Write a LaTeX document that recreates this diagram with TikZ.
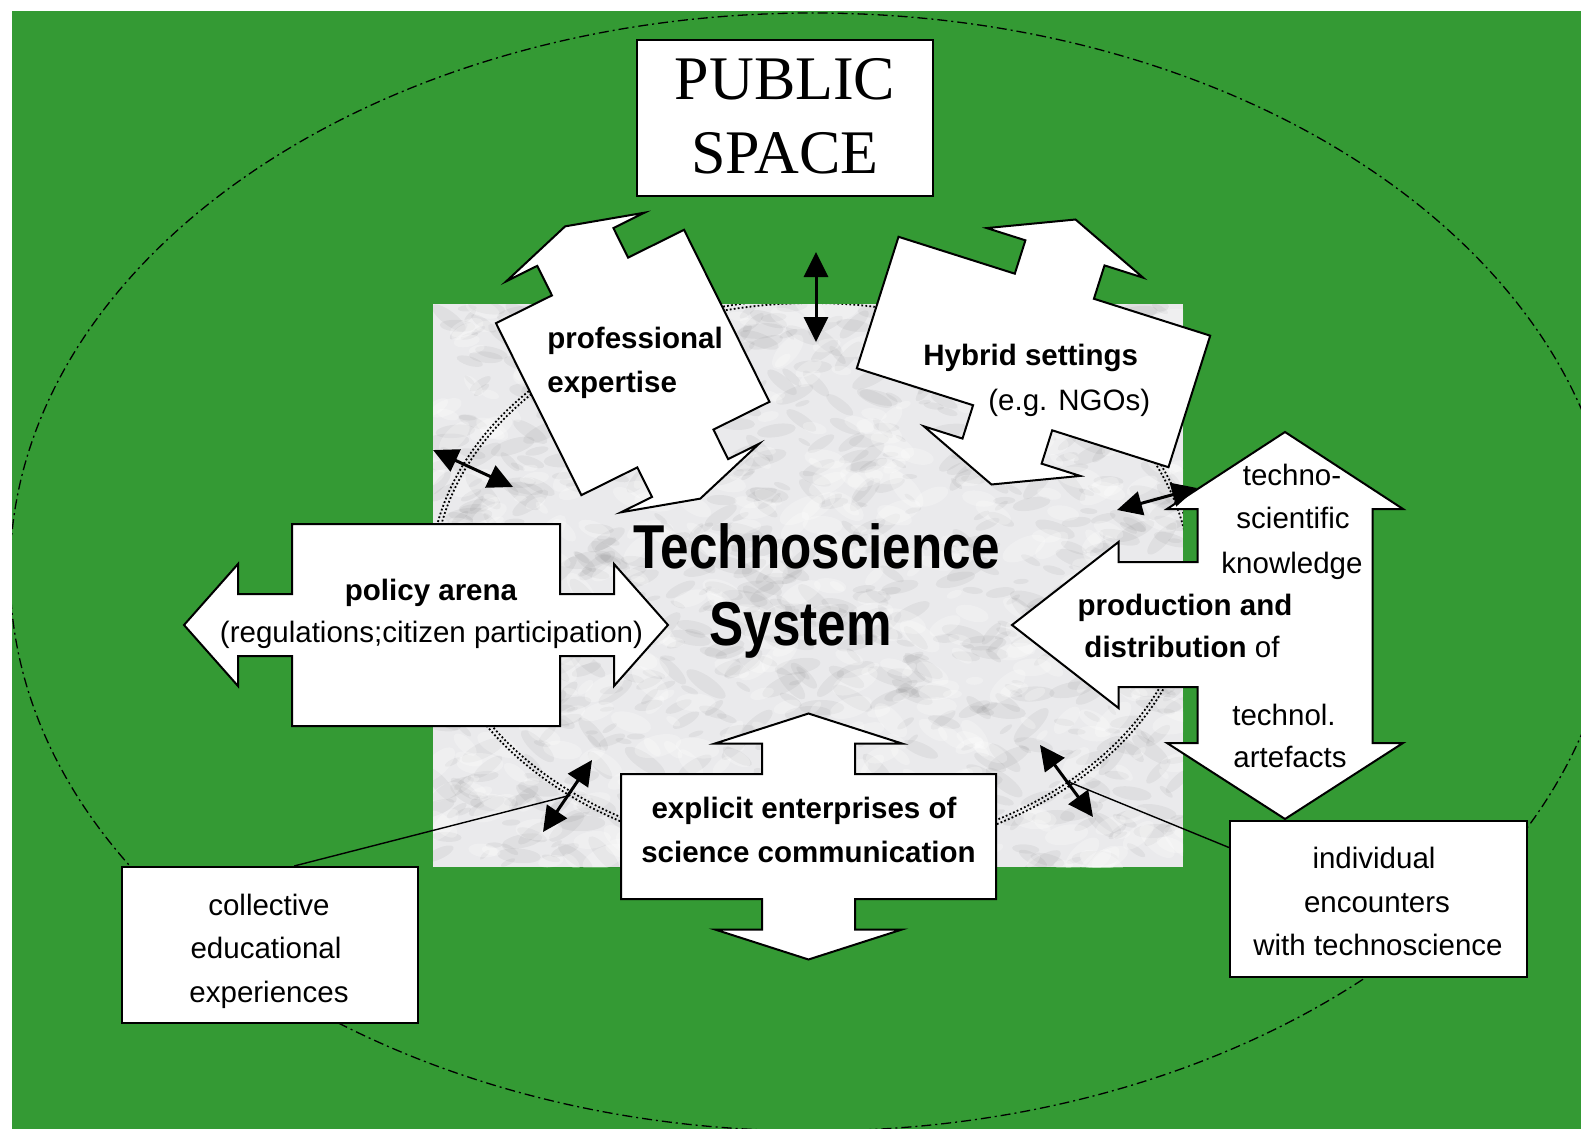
\documentclass[tikz,border=0pt]{standalone}
\usepackage{fontspec}
\usepackage{graphicx}
\setmainfont{Liberation Sans}
\newfontfamily\seriffont{Liberation Serif}
\usetikzlibrary{arrows.meta,calc}
\definecolor{bggreen}{RGB}{52,154,52}
\definecolor{marble}{RGB}{234,234,236}
\newcommand{\ftn}{\fontsize{14.75pt}{17pt}\selectfont}
% double arrow outline: W H S L HW HH (body width, body height, shaft width, shaft length, head width, head height)
\newcommand{\darrowpath}[6]{(-#1/2,-#2/2) -- (-#3/2,-#2/2) -- (-#3/2,-#2/2-#4) -- (-#5/2,-#2/2-#4) -- (0,-#2/2-#4-#6) -- (#5/2,-#2/2-#4) -- (#3/2,-#2/2-#4) -- (#3/2,-#2/2) -- (#1/2,-#2/2) -- (#1/2,#2/2) -- (#3/2,#2/2) -- (#3/2,#2/2+#4) -- (#5/2,#2/2+#4) -- (0,#2/2+#4+#6) -- (-#5/2,#2/2+#4) -- (-#3/2,#2/2+#4) -- (-#3/2,#2/2) -- (-#1/2,#2/2) -- cycle}
\tikzset{
  shapebox/.style={draw=black, line width=1pt, fill=white, line join=miter},
  txt/.style={inner sep=0pt, anchor=base, font=\ftn},
  txtl/.style={inner sep=0pt, anchor=base west, font=\ftn},
  rbox/.style={draw=black, line width=1pt, fill=white, inner sep=0pt, minimum width=148pt, minimum height=78pt},
  dbl/.style={line width=1.5pt, {Triangle[length=12.5pt,width=12pt]}-{Triangle[length=12.5pt,width=12pt]}},
  conn/.style={line width=0.7pt},
  dotring/.style={line width=0.9pt, dash pattern=on 0.9pt off 1.1pt},
  dashdotline/.style={line width=0.65pt, dash pattern=on 5pt off 2pt on 1pt off 2pt}
}
\begin{document}
\begin{tikzpicture}[x=0.5pt, y=-0.5pt]
\useasboundingbox (0,0) rectangle (1581,1129);
\fill[white] (0,0) rectangle (1581,1129);
\fill[bggreen] (12,11) rectangle (1581,1129);
% outer public space ellipse
\begin{scope}
  \clip (12,11) rectangle (1581,1129);
  \draw[dashdotline] (813,572) ellipse [x radius=803, y radius=559];
\end{scope}
% marble block
\begin{scope}
  \clip (433,304) rectangle (1183,867);
  \fill[marble] (433,304) rectangle (1183,867);
  \pgfmathsetseed{4242}
  \foreach \i in {1,...,900}{
    \pgfmathsetmacro{\mx}{433+750*rnd}
    \pgfmathsetmacro{\my}{304+563*rnd}
    \pgfmathsetmacro{\mr}{2+6*rnd}
    \pgfmathsetmacro{\ma}{-50+100*rnd}
    \fill[black, opacity=0.045, rotate around={\ma:(\mx,\my)}] (\mx,\my) ellipse [x radius=3*\mr, y radius=\mr];
  }
  \foreach \i in {1,...,500}{
    \pgfmathsetmacro{\mx}{433+750*rnd}
    \pgfmathsetmacro{\my}{304+563*rnd}
    \pgfmathsetmacro{\mr}{3+8*rnd}
    \pgfmathsetmacro{\ma}{-50+100*rnd}
    \fill[white, opacity=0.25, rotate around={\ma:(\mx,\my)}] (\mx,\my) ellipse [x radius=2.2*\mr, y radius=\mr];
  }
  \draw[dotring] (812,579) ellipse [x radius=378, y radius=276];
  \draw[dotring] (812,579) ellipse [x radius=382, y radius=280];
\end{scope}
% PUBLIC SPACE box
\node[rbox] (pub) at (785,118) {};
\node[txt, font=\seriffont\fontsize{31pt}{31pt}\selectfont] (pub1) at (785,100) {PUBLIC};
\node[txt, font=\seriffont\fontsize{31pt}{31pt}\selectfont] (pub2) at (785,174) {SPACE};
% big outline arrows
\draw[shapebox, shift={(632.7,362.5)}, rotate=26.4] \darrowpath{210}{192}{85}{33}{154}{23};
\draw[shapebox, shift={(1033.5,352)}, rotate=-17.6] \darrowpath{327}{138}{83}{35}{164}{35};
\draw[shapebox, shift={(426,625)}, rotate=90] \darrowpath{202}{268}{62}{54}{122}{54};
\draw[shapebox, shift={(808.5,836.5)}] \darrowpath{375}{125}{93}{30.5}{187}{30};
\draw[shapebox] (1285,432) -- (1403,509) -- (1372.5,509) -- (1372.5,743) -- (1403,743) -- (1285,819)
  -- (1167,743) -- (1197.5,743) -- (1197.5,687) -- (1118.5,687) -- (1118.5,708) -- (1012,625)
  -- (1118.5,542) -- (1118.5,562) -- (1197.5,562) -- (1197.5,509) -- (1167,509) -- cycle;
% small double arrows
\coordinate (a1) at (816,252); \coordinate (a2) at (816,342);
\coordinate (b1) at (433,450); \coordinate (b2) at (513,487);
\coordinate (c1) at (1117,510); \coordinate (c2) at (1197,488);
\coordinate (d1) at (592,760); \coordinate (d2) at (543,832);
\coordinate (e1) at (1040,745); \coordinate (e2) at (1093,817);
\draw[dbl] (a1) -- (a2);
\draw[dbl] (b1) -- (b2);
\draw[dbl] (c1) -- (c2);
\draw[dbl] (d1) -- (d2);
\draw[dbl] (e1) -- (e2);
\coordinate (dmid) at ($(d1)!0.5!(d2)$);
\coordinate (emid) at ($(e1)!0.5!(e2)$);
% side boxes
\node[rbox] (coll) at (270,945) {};
\node[rbox, minimum width=148.5pt] (ind) at (1378.5,899) {};
\draw[conn] (coll.73.6) -- (dmid);
\draw[conn] (ind.161.7) -- (emid);
% texts
\node[txt] (ts1) at (816.5,568) {\scalebox{0.826}[1]{\fontsize{31pt}{31pt}\selectfont\bfseries Technoscience}};
\node[txt] (ts2) at (800.8,645) {\scalebox{0.826}[1]{\fontsize{31pt}{31pt}\selectfont\bfseries System}};
\node[txtl, font=\ftn\bfseries] (pe1) at (547,348) {professional};
\node[txtl, font=\ftn\bfseries] (pe2) at (547,392) {expertise};
\node[txtl, font=\ftn\bfseries] (hy1) at (923,365) {Hybrid settings};
\node[txtl] (hy2) at (988,410) {(e.g. NGOs)};
\node[txt, font=\ftn\bfseries] (pa1) at (431,600) {policy arena};
\node[txt] (pa2) at (431.5,642) {(regulations;citizen participation)};
\node[txt, font=\ftn\bfseries] (ex1) at (804,818) {explicit enterprises of};
\node[txt, font=\ftn\bfseries] (ex2) at (808.5,862) {science communication};
\node[txt] (co1) at (269,915) {collective};
\node[txt] (co2) at (266,958) {educational};
\node[txt] (co3) at (269,1002) {experiences};
\node[txt] (in1) at (1374,868) {individual};
\node[txt] (in2) at (1377,912) {encounters};
\node[txt] (in3) at (1378,955) {with technoscience};
\node[txt] (tk1) at (1292,485) {techno-};
\node[txt] (tk2) at (1293,528) {scientific};
\node[txt] (tk3) at (1292,573) {knowledge};
\node[txt] (ta1) at (1284,725) {technol.};
\node[txt] (ta2) at (1290,767) {artefacts};
\node[txt, font=\ftn\bfseries] (pd1) at (1185,615) {production and};
\node[txt] (pd2) at (1182,657) {\textbf{distribution} of};
\end{tikzpicture}
\end{document}
